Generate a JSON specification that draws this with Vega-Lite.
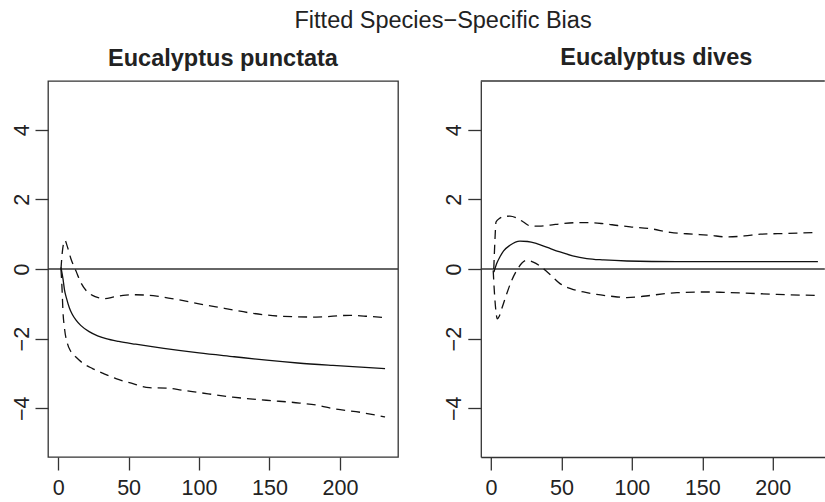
{
  "$schema": "https://vega.github.io/schema/vega-lite/v6.json",
  "padding": {"left": 0, "top": 8, "right": 0, "bottom": 0},
  "autosize": {"type": "pad"},
  "background": "white",
  "title": {"text": "Fitted Species−Specific Bias", "fontSize": 23.5, "fontWeight": "normal", "anchor": "start", "dx": 246.5, "offset": 14, "frame": "group"},
  "datasets": {
    "bias": [
      {"species": "punctata", "series": "estimate", "x": 2, "y": 0.05},
      {"species": "punctata", "series": "estimate", "x": 3.5, "y": -0.3},
      {"species": "punctata", "series": "estimate", "x": 4.5, "y": -0.6},
      {"species": "punctata", "series": "estimate", "x": 6, "y": -0.85},
      {"species": "punctata", "series": "estimate", "x": 8, "y": -1.12},
      {"species": "punctata", "series": "estimate", "x": 10, "y": -1.3},
      {"species": "punctata", "series": "estimate", "x": 12.7, "y": -1.47},
      {"species": "punctata", "series": "estimate", "x": 16, "y": -1.62},
      {"species": "punctata", "series": "estimate", "x": 22, "y": -1.8},
      {"species": "punctata", "series": "estimate", "x": 28, "y": -1.92},
      {"species": "punctata", "series": "estimate", "x": 34, "y": -2.0},
      {"species": "punctata", "series": "estimate", "x": 43, "y": -2.08},
      {"species": "punctata", "series": "estimate", "x": 55, "y": -2.16},
      {"species": "punctata", "series": "estimate", "x": 75, "y": -2.28},
      {"species": "punctata", "series": "estimate", "x": 100, "y": -2.41},
      {"species": "punctata", "series": "estimate", "x": 125, "y": -2.52},
      {"species": "punctata", "series": "estimate", "x": 148, "y": -2.62},
      {"species": "punctata", "series": "estimate", "x": 170, "y": -2.7},
      {"species": "punctata", "series": "estimate", "x": 195, "y": -2.77},
      {"species": "punctata", "series": "estimate", "x": 215, "y": -2.82},
      {"species": "punctata", "series": "estimate", "x": 232, "y": -2.86},

      {"species": "punctata", "series": "upper", "x": 2, "y": 0.0},
      {"species": "punctata", "series": "upper", "x": 3, "y": 0.5},
      {"species": "punctata", "series": "upper", "x": 4.8, "y": 0.82},
      {"species": "punctata", "series": "upper", "x": 6.5, "y": 0.65},
      {"species": "punctata", "series": "upper", "x": 9, "y": 0.3},
      {"species": "punctata", "series": "upper", "x": 12.6, "y": -0.05},
      {"species": "punctata", "series": "upper", "x": 16, "y": -0.38},
      {"species": "punctata", "series": "upper", "x": 19.7, "y": -0.61},
      {"species": "punctata", "series": "upper", "x": 24, "y": -0.75},
      {"species": "punctata", "series": "upper", "x": 29, "y": -0.83},
      {"species": "punctata", "series": "upper", "x": 33, "y": -0.85},
      {"species": "punctata", "series": "upper", "x": 40, "y": -0.8},
      {"species": "punctata", "series": "upper", "x": 48, "y": -0.75},
      {"species": "punctata", "series": "upper", "x": 55, "y": -0.74},
      {"species": "punctata", "series": "upper", "x": 62, "y": -0.75},
      {"species": "punctata", "series": "upper", "x": 70, "y": -0.78},
      {"species": "punctata", "series": "upper", "x": 85, "y": -0.88},
      {"species": "punctata", "series": "upper", "x": 100, "y": -1.0},
      {"species": "punctata", "series": "upper", "x": 118, "y": -1.13},
      {"species": "punctata", "series": "upper", "x": 136, "y": -1.26},
      {"species": "punctata", "series": "upper", "x": 160, "y": -1.36},
      {"species": "punctata", "series": "upper", "x": 183, "y": -1.38},
      {"species": "punctata", "series": "upper", "x": 207, "y": -1.33},
      {"species": "punctata", "series": "upper", "x": 220, "y": -1.36},
      {"species": "punctata", "series": "upper", "x": 232, "y": -1.4},

      {"species": "punctata", "series": "lower", "x": 2, "y": 0.0},
      {"species": "punctata", "series": "lower", "x": 2.8, "y": -0.6},
      {"species": "punctata", "series": "lower", "x": 3.4, "y": -1.2},
      {"species": "punctata", "series": "lower", "x": 4.5, "y": -1.7},
      {"species": "punctata", "series": "lower", "x": 6.6, "y": -2.14},
      {"species": "punctata", "series": "lower", "x": 9, "y": -2.37},
      {"species": "punctata", "series": "lower", "x": 12.6, "y": -2.53},
      {"species": "punctata", "series": "lower", "x": 18, "y": -2.72},
      {"species": "punctata", "series": "lower", "x": 24.4, "y": -2.86},
      {"species": "punctata", "series": "lower", "x": 32, "y": -3.0},
      {"species": "punctata", "series": "lower", "x": 41, "y": -3.15},
      {"species": "punctata", "series": "lower", "x": 52, "y": -3.28},
      {"species": "punctata", "series": "lower", "x": 64.7, "y": -3.41},
      {"species": "punctata", "series": "lower", "x": 76.6, "y": -3.42},
      {"species": "punctata", "series": "lower", "x": 88, "y": -3.48},
      {"species": "punctata", "series": "lower", "x": 100.3, "y": -3.55},
      {"species": "punctata", "series": "lower", "x": 124, "y": -3.68},
      {"species": "punctata", "series": "lower", "x": 147.7, "y": -3.77},
      {"species": "punctata", "series": "lower", "x": 171.4, "y": -3.85},
      {"species": "punctata", "series": "lower", "x": 185, "y": -3.92},
      {"species": "punctata", "series": "lower", "x": 195, "y": -4.01},
      {"species": "punctata", "series": "lower", "x": 215, "y": -4.12},
      {"species": "punctata", "series": "lower", "x": 232, "y": -4.25},

      {"species": "dives", "series": "estimate", "x": 2.1, "y": -0.09},
      {"species": "dives", "series": "estimate", "x": 4, "y": 0.15},
      {"species": "dives", "series": "estimate", "x": 6.4, "y": 0.35},
      {"species": "dives", "series": "estimate", "x": 9, "y": 0.52},
      {"species": "dives", "series": "estimate", "x": 13.5, "y": 0.68},
      {"species": "dives", "series": "estimate", "x": 20.6, "y": 0.8},
      {"species": "dives", "series": "estimate", "x": 26, "y": 0.79},
      {"species": "dives", "series": "estimate", "x": 32.5, "y": 0.73},
      {"species": "dives", "series": "estimate", "x": 40, "y": 0.62},
      {"species": "dives", "series": "estimate", "x": 49, "y": 0.49},
      {"species": "dives", "series": "estimate", "x": 58, "y": 0.38},
      {"species": "dives", "series": "estimate", "x": 68, "y": 0.3},
      {"species": "dives", "series": "estimate", "x": 80, "y": 0.26},
      {"species": "dives", "series": "estimate", "x": 96.5, "y": 0.23},
      {"species": "dives", "series": "estimate", "x": 132, "y": 0.21},
      {"species": "dives", "series": "estimate", "x": 180, "y": 0.21},
      {"species": "dives", "series": "estimate", "x": 232, "y": 0.21},

      {"species": "dives", "series": "upper", "x": 2, "y": 0.0},
      {"species": "dives", "series": "upper", "x": 2.8, "y": 0.8},
      {"species": "dives", "series": "upper", "x": 3.6, "y": 1.35},
      {"species": "dives", "series": "upper", "x": 6, "y": 1.45},
      {"species": "dives", "series": "upper", "x": 9, "y": 1.5},
      {"species": "dives", "series": "upper", "x": 13.5, "y": 1.52},
      {"species": "dives", "series": "upper", "x": 18, "y": 1.47},
      {"species": "dives", "series": "upper", "x": 23, "y": 1.35},
      {"species": "dives", "series": "upper", "x": 27.7, "y": 1.24},
      {"species": "dives", "series": "upper", "x": 34, "y": 1.23},
      {"species": "dives", "series": "upper", "x": 42, "y": 1.26},
      {"species": "dives", "series": "upper", "x": 50, "y": 1.3},
      {"species": "dives", "series": "upper", "x": 61, "y": 1.33},
      {"species": "dives", "series": "upper", "x": 70, "y": 1.33},
      {"species": "dives", "series": "upper", "x": 80, "y": 1.3},
      {"species": "dives", "series": "upper", "x": 90, "y": 1.25},
      {"species": "dives", "series": "upper", "x": 98.9, "y": 1.21},
      {"species": "dives", "series": "upper", "x": 113, "y": 1.16},
      {"species": "dives", "series": "upper", "x": 127.3, "y": 1.05},
      {"species": "dives", "series": "upper", "x": 143.9, "y": 1.0},
      {"species": "dives", "series": "upper", "x": 155, "y": 0.97},
      {"species": "dives", "series": "upper", "x": 167.6, "y": 0.92},
      {"species": "dives", "series": "upper", "x": 180, "y": 0.95},
      {"species": "dives", "series": "upper", "x": 191.3, "y": 1.0},
      {"species": "dives", "series": "upper", "x": 210, "y": 1.02},
      {"species": "dives", "series": "upper", "x": 232, "y": 1.05},

      {"species": "dives", "series": "lower", "x": 1.6, "y": -0.04},
      {"species": "dives", "series": "lower", "x": 2.5, "y": -0.7},
      {"species": "dives", "series": "lower", "x": 3.5, "y": -1.2},
      {"species": "dives", "series": "lower", "x": 4.5, "y": -1.43},
      {"species": "dives", "series": "lower", "x": 6, "y": -1.35},
      {"species": "dives", "series": "lower", "x": 8, "y": -1.1},
      {"species": "dives", "series": "lower", "x": 11.2, "y": -0.71},
      {"species": "dives", "series": "lower", "x": 14.5, "y": -0.35},
      {"species": "dives", "series": "lower", "x": 18.3, "y": -0.04},
      {"species": "dives", "series": "lower", "x": 22, "y": 0.17},
      {"species": "dives", "series": "lower", "x": 25.4, "y": 0.25},
      {"species": "dives", "series": "lower", "x": 30, "y": 0.2},
      {"species": "dives", "series": "lower", "x": 37.2, "y": 0.01},
      {"species": "dives", "series": "lower", "x": 43, "y": -0.2},
      {"species": "dives", "series": "lower", "x": 49, "y": -0.42},
      {"species": "dives", "series": "lower", "x": 57, "y": -0.57},
      {"species": "dives", "series": "lower", "x": 65.7, "y": -0.66},
      {"species": "dives", "series": "lower", "x": 75, "y": -0.73},
      {"species": "dives", "series": "lower", "x": 84.6, "y": -0.78},
      {"species": "dives", "series": "lower", "x": 96.5, "y": -0.82},
      {"species": "dives", "series": "lower", "x": 105, "y": -0.8},
      {"species": "dives", "series": "lower", "x": 113, "y": -0.76},
      {"species": "dives", "series": "lower", "x": 132, "y": -0.68},
      {"species": "dives", "series": "lower", "x": 151, "y": -0.66},
      {"species": "dives", "series": "lower", "x": 165, "y": -0.67},
      {"species": "dives", "series": "lower", "x": 179.4, "y": -0.69},
      {"species": "dives", "series": "lower", "x": 203, "y": -0.73},
      {"species": "dives", "series": "lower", "x": 231, "y": -0.76}
    ]
  },
  "spacing": 32.8,
  "hconcat": [
    {
      "width": 350,
      "height": 376,
      "title": {"text": "Eucalyptus punctata", "fontSize": 23.5, "fontWeight": "bold", "baseline": "alphabetic", "offset": -8.3},
      "layer": [
        {
          "data": {"values": [{"ref": 0}]},
          "mark": {"type": "rule", "color": "#333", "strokeWidth": 1.3},
          "encoding": {
            "y": {"field": "ref", "type": "quantitative", "scale": {"domain": [-5.4, 5.4], "nice": false, "zero": false},
                  "axis": {"values": [-4, -2, 0, 2, 4], "labelAngle": -90, "labelAlign": "center", "labelBaseline": "alphabetic", "labelPadding": 7, "tickSize": 13, "domain": false, "title": null, "minExtent": 47.2, "maxExtent": 47.2}}
          }
        },
        {
          "data": {"name": "bias"},
          "transform": [{"filter": "datum.species === 'punctata' && datum.series === 'estimate'"}],
          "mark": {"type": "line", "color": "#111", "strokeWidth": 1.3, "interpolate": "monotone"},
          "encoding": {
            "x": {"field": "x", "type": "quantitative", "scale": {"domain": [-7.2, 241.2], "nice": false, "zero": false},
                  "axis": {"values": [0, 50, 100, 150, 200], "tickSize": 13, "labelPadding": 7, "domain": false, "title": null, "labelFlush": false}},
            "y": {"field": "y", "type": "quantitative"}
          }
        },
        {
          "data": {"name": "bias"},
          "transform": [{"filter": "datum.species === 'punctata' && datum.series !== 'estimate'"}],
          "mark": {"type": "line", "color": "#111", "strokeWidth": 1.3, "strokeDash": [9, 6], "interpolate": "monotone"},
          "encoding": {
            "x": {"field": "x", "type": "quantitative"},
            "y": {"field": "y", "type": "quantitative"},
            "detail": {"field": "series"}
          }
        }
      ]
    },
    {
      "width": 344,
      "height": 376,
      "view": {"stroke": null},
      "title": {"text": "Eucalyptus dives", "fontSize": 23.5, "fontWeight": "bold", "baseline": "alphabetic", "offset": -8.3, "dx": 3.5},
      "layer": [
        {
          "data": {"values": [{"ref": 0}]},
          "mark": {"type": "rule", "color": "#333", "strokeWidth": 1.3},
          "encoding": {
            "y": {"field": "ref", "type": "quantitative", "scale": {"domain": [-5.4, 5.4], "nice": false, "zero": false},
                  "axis": {"values": [-4, -2, 0, 2, 4], "labelAngle": -90, "labelAlign": "center", "labelBaseline": "alphabetic", "labelPadding": 7, "tickSize": 13, "domain": true, "title": null, "minExtent": 47.2, "maxExtent": 47.2}}
          }
        },
        {
          "data": {"values": [{"ref": 0}]},
          "mark": {"type": "rule", "color": "#333", "strokeWidth": 1.3},
          "encoding": {
            "y": {"datum": 5.4, "type": "quantitative"}
          }
        },
        {
          "data": {"name": "bias"},
          "transform": [{"filter": "datum.species === 'dives' && datum.series === 'estimate'"}],
          "mark": {"type": "line", "color": "#111", "strokeWidth": 1.3, "interpolate": "monotone"},
          "encoding": {
            "x": {"field": "x", "type": "quantitative", "scale": {"domain": [-7.2, 236.9], "nice": false, "zero": false},
                  "axis": {"values": [0, 50, 100, 150, 200], "tickSize": 13, "labelPadding": 7, "domain": true, "title": null, "labelFlush": false}},
            "y": {"field": "y", "type": "quantitative"}
          }
        },
        {
          "data": {"name": "bias"},
          "transform": [{"filter": "datum.species === 'dives' && datum.series !== 'estimate'"}],
          "mark": {"type": "line", "color": "#111", "strokeWidth": 1.3, "strokeDash": [9, 6], "interpolate": "monotone"},
          "encoding": {
            "x": {"field": "x", "type": "quantitative"},
            "y": {"field": "y", "type": "quantitative"},
            "detail": {"field": "series"}
          }
        }
      ]
    }
  ],
  "config": {
    "font": "Liberation Sans",
    "view": {"stroke": "#333", "strokeWidth": 1.3},
    "axis": {"grid": false, "labelFont": "Liberation Sans", "labelFontSize": 21.5, "labelColor": "#222", "tickColor": "#333", "tickWidth": 1.3, "domainColor": "#333", "domainWidth": 1.3},
    "title": {"font": "Liberation Sans", "color": "#222"}
  }
}
